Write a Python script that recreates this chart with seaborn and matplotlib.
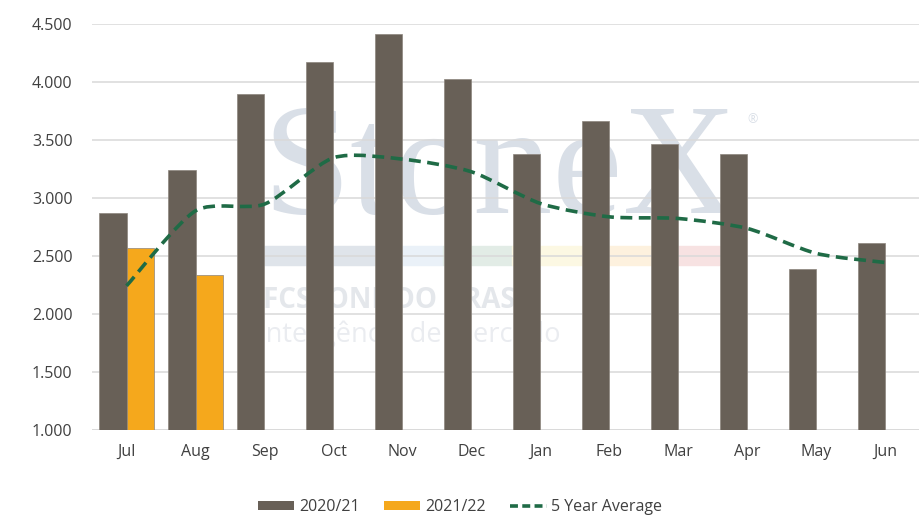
import numpy as np
import pandas as pd
import matplotlib
matplotlib.use("Agg")
import matplotlib.pyplot as plt
import seaborn as sns
from matplotlib.path import Path
from matplotlib.patches import PathPatch, Patch, Rectangle
from matplotlib.lines import Line2D
from matplotlib.ticker import FuncFormatter, FixedLocator

months = ["Jul", "Aug", "Sep", "Oct", "Nov", "Dec", "Jan", "Feb", "Mar", "Apr", "May", "Jun"]
season_2020 = [2865, 3240, 3895, 4165, 4412, 4022, 3375, 3662, 3464, 3375, 2382, 2606]
season_2021 = [2563, 2336, None, None, None, None, None, None, None, None, None, None]
avg_5y = [2241, 2887, 2945, 3344, 3332, 3223, 2950, 2835, 2821, 2735, 2520, 2442]
y_ticks = [1000, 1500, 2000, 2500, 3000, 3500, 4000, 4500]

c_brown = "#686057"
c_orange = "#F5A81C"
c_green = "#1F6B46"
c_text = "#404040"

df = pd.DataFrame({
    "month": months * 2,
    "season": ["2020/21"] * 12 + ["2021/22"] * 12,
    "value": season_2020 + season_2021,
})
df["value"] = df["value"].astype(float)

sns.set_style("white")
plt.rcParams["font.family"] = ["Open Sans", "DejaVu Sans"]

fig = plt.figure(figsize=(9.2, 5.29), dpi=100)
ax = fig.add_axes([92 / 920, 1 - 430 / 529, 828 / 920, 406.5 / 529])

# faint StoneX watermark, kept behind the bars
ft = fig.transFigure
wm = "#d9dfe7"
ax.text(262 / 920, 1 - 213 / 529, "StoneX", family="Liberation Serif", fontsize=114,
        color=wm, ha="left", va="baseline", transform=ft, zorder=0.5, clip_on=False)
ax.text(753 / 920, 1 - 120 / 529, "®", fontsize=9, color=wm, ha="center", va="center",
        transform=ft, zorder=0.5, clip_on=False)
band = [(263, 400, "#dfe4ea"), (400, 443, "#eaf1f8"), (443, 512, "#e2ece6"),
        (512, 582, "#fcf8e3"), (582, 652, "#fdf1de"), (652, 720, "#f7e2e2")]
for x0, x1, col in band:
    ax.add_patch(Rectangle((x0 / 920, 1 - 265 / 529), (x1 - x0) / 920, 19 / 529,
                           transform=ft, color=col, zorder=0.5, clip_on=False))
ax.text(263 / 920, 1 - 300 / 529, "FCSTONE DO BRASIL", fontsize=20, fontweight="bold",
        color="#e4e7eb", ha="left", va="center", transform=ft, zorder=0.5)
ax.text(258 / 920, 1 - 335 / 529, "Inteligência de Mercado", fontsize=19.5,
        color="#eaecf0", ha="left", va="center", transform=ft, zorder=0.5)

sns.barplot(data=df, x="month", y="value", hue="season", order=months,
            palette={"2020/21": c_brown, "2021/22": c_orange}, width=0.81,
            saturation=1, errorbar=None, legend=False, ax=ax, zorder=2,
            edgecolor="#8c857d", linewidth=0.5)

# smoothed 5-year average line (bezier through the points)
xs = np.arange(len(avg_5y), dtype=float)
pts = np.column_stack([xs, np.array(avg_5y, dtype=float)])
ext = np.vstack([pts[0], pts, pts[-1]])
k = 1 / 8
verts = [tuple(pts[0])]
codes = [Path.MOVETO]
for i in range(len(pts) - 1):
    p0, p1, p2, p3 = ext[i], ext[i + 1], ext[i + 2], ext[i + 3]
    verts += [tuple(p1 + (p2 - p0) * k), tuple(p2 - (p3 - p1) * k), tuple(p2)]
    codes += [Path.CURVE4] * 3
ax.add_patch(PathPatch(Path(verts, codes), fill=False, edgecolor=c_green, lw=2.6,
                       linestyle=(0, (3.3, 1.8)), zorder=3))

ax.set_xlim(-0.5, 11.5)
ax.set_ylim(1000, 4500)
ax.yaxis.set_major_locator(FixedLocator(y_ticks))
ax.yaxis.set_major_formatter(FuncFormatter(lambda v, p: f"{int(v):,}".replace(",", ".")))
ax.grid(axis="y", color="#d9d9d9", lw=1.1, zorder=0)
ax.set_axisbelow(True)
for s in ax.spines.values():
    s.set_visible(False)
ax.set_xlabel("")
ax.set_ylabel("")
ax.tick_params(axis="both", length=0, labelsize=11.5, labelcolor=c_text)
ax.tick_params(axis="y", pad=14)
ax.tick_params(axis="x", pad=10)
ax.axhline(1000, color="#d9d9d9", lw=1.1, zorder=1)

handles = [
    Patch(facecolor=c_brown, edgecolor="none"),
    Patch(facecolor=c_orange, edgecolor="none"),
    Line2D([], [], color=c_green, lw=2.6, linestyle=(0, (2.2, 1.2))),
]
fig.legend(handles, ["2020/21", "2021/22", "5 Year Average"], loc="center",
           bbox_to_anchor=(0.5, 1 - 507 / 529), ncol=3, frameon=False,
           fontsize=11.5, labelcolor=c_text, handlelength=2.3, handleheight=0.5,
           handletextpad=0.3, columnspacing=1.5)

fig.savefig("out.png", dpi=100)
